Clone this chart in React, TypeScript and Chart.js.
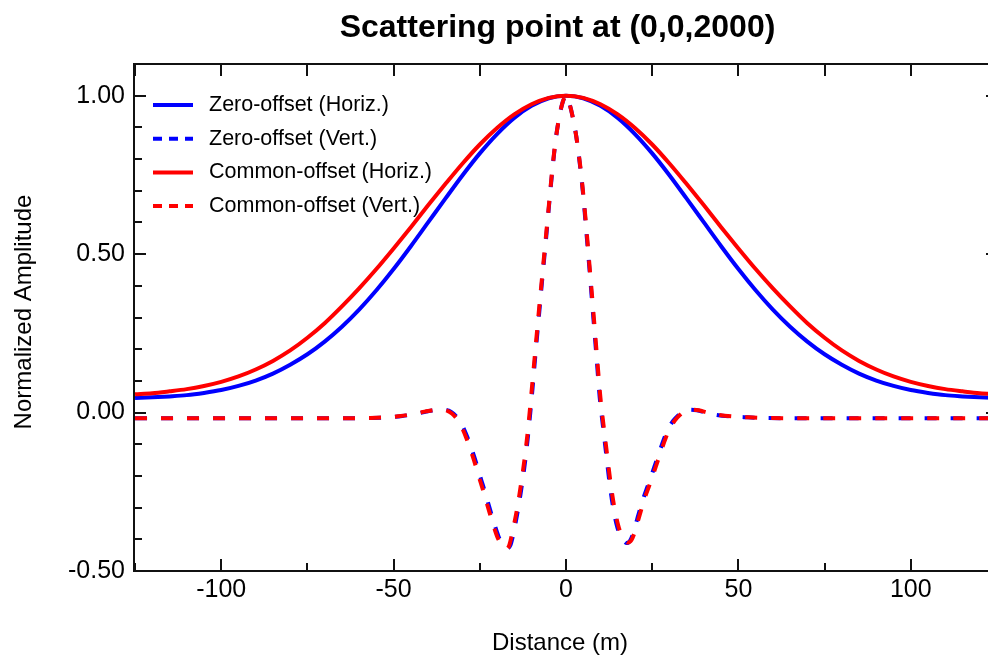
import React, { useEffect, useRef } from "react";
import { Chart, registerables } from "chart.js";

Chart.register(...registerables);

const FONT = 'Arial, "Liberation Sans", Helvetica, sans-serif';
const AXIS_COLOR = "#111111";

const CHART_TITLE = "Scattering point at (0,0,2000)";
const X_TITLE = "Distance (m)";
const Y_TITLE = "Normalized Amplitude";

const SERIES_LABELS = [
  "Zero-offset (Horiz.)",
  "Zero-offset (Vert.)",
  "Common-offset (Horiz.)",
  "Common-offset (Vert.)",
];
const SERIES_COLORS = ["#0000ff", "#0000ff", "#ff0000", "#ff0000"];
const SERIES_DASHED = [false, true, false, true];

const X_MIN = -125.3;
const X_MAX = 125.3;
const Y_MIN = -0.5;
const Y_MAX = 1.1;
const X_MAJOR_TICKS = [-100, -50, 0, 50, 100];
const X_MINOR_TICKS = [-125, -75, -25, 25, 75, 125];
const Y_MAJOR_TICKS = [-0.5, 0, 0.5, 1.0];
const Y_MINOR_TICKS = [-0.4, -0.3, -0.2, -0.1, 0.1, 0.2, 0.3, 0.4, 0.6, 0.7, 0.8, 0.9];

// Horizontal-component curves (sampled every 5 m)
const HORIZ_X = [
  -125, -120, -115, -110, -105, -100, -95, -90, -85, -80, -75, -70, -65, -60, -55, -50, -45, -40, -35, -30,
  -25, -20, -15, -10, -5, 0, 5, 10, 15, 20, 25, 30, 35, 40, 45, 50, 55, 60, 65, 70, 75, 80, 85, 90, 95, 100,
  105, 110, 115, 120, 125,
];
const ZO_HORIZ = [
  0.046, 0.048, 0.051, 0.055, 0.062, 0.071, 0.084, 0.101, 0.123, 0.151, 0.184, 0.224, 0.271, 0.325, 0.386,
  0.453, 0.525, 0.6, 0.675, 0.749, 0.818, 0.879, 0.93, 0.968, 0.992, 1.0, 0.992, 0.968, 0.93, 0.879, 0.818,
  0.749, 0.675, 0.6, 0.525, 0.453, 0.386, 0.325, 0.271, 0.224, 0.184, 0.151, 0.123, 0.101, 0.084, 0.071,
  0.062, 0.055, 0.051, 0.048, 0.046,
];
const CO_HORIZ = [
  0.058, 0.061, 0.067, 0.074, 0.084, 0.097, 0.114, 0.136, 0.163, 0.196, 0.236, 0.282, 0.335, 0.392, 0.453,
  0.518, 0.585, 0.654, 0.721, 0.786, 0.846, 0.898, 0.941, 0.973, 0.993, 1.0, 0.993, 0.973, 0.941, 0.898,
  0.846, 0.786, 0.721, 0.654, 0.585, 0.518, 0.453, 0.392, 0.335, 0.282, 0.236, 0.196, 0.163, 0.136, 0.114,
  0.097, 0.084, 0.074, 0.067, 0.061, 0.058,
];

// Vertical-component curves
const CO_VERT_X = [
  -125, -100, -80, -65, -57, -52, -48, -44, -41, -38.5, -36.5, -34.5, -33, -31.5, -30, -29, -28, -27, -26, -25,
  -24, -23, -22, -21, -20, -19, -18, -17.3, -16.5, -15.8, -15, -14, -13, -12, -11, -10, -9, -8, -7, -6, -5, -4,
  -3, -2, -1, 0, 1, 2, 3, 4, 5, 6, 7, 8, 9, 10, 11, 12, 13, 14, 15, 16, 17, 18, 19, 20, 21, 22, 23, 24, 25, 26,
  27, 28, 29, 30, 31.5, 33, 34.5, 36.5, 38.5, 41, 44, 48, 53, 58, 65, 80, 100, 125,
];
const CO_VERT = [
  -0.018, -0.018, -0.018, -0.018, -0.017, -0.015, -0.011, -0.004, 0.003, 0.008, 0.01, 0.006, -0.004, -0.022,
  -0.052, -0.078, -0.108, -0.14, -0.175, -0.212, -0.247, -0.285, -0.322, -0.358, -0.39, -0.412, -0.426, -0.43,
  -0.42, -0.39, -0.35, -0.292, -0.222, -0.145, -0.05, 0.065, 0.185, 0.305, 0.42, 0.535, 0.65, 0.765, 0.86, 0.93,
  0.978, 1.0, 0.975, 0.93, 0.87, 0.79, 0.69, 0.57, 0.44, 0.31, 0.175, 0.045, -0.05, -0.14, -0.228, -0.298, -0.35,
  -0.385, -0.403, -0.41, -0.402, -0.375, -0.337, -0.3, -0.265, -0.235, -0.205, -0.172, -0.14, -0.108, -0.078,
  -0.052, -0.026, -0.008, 0.004, 0.009, 0.007, 0.0, -0.007, -0.012, -0.015, -0.017, -0.018, -0.018, -0.018, -0.018,
];
const ZO_VERT_X = [
  -125, -100, -80, -65, -57, -51.5, -47.5, -43.5, -40.5, -38, -36, -34, -32.6, -31.1, -29.6, -28.6, -27.6, -26.6,
  -25.6, -24.6, -23.6, -22.6, -21.6, -20.6, -19.6, -18.6, -17.6, -16.9, -16.1, -15.4, -14.65, -13.7, -12.7,
  -11.75, -10.8, -9.8, -8.85, -7.85, -6.9, -5.9, -4.95, -3.95, -3, -2, -1, 0, 1, 2, 3, 3.95, 4.95, 5.9, 6.9, 7.85,
  8.85, 9.8, 10.8, 11.75, 12.7, 13.65, 14.6, 15.6, 16.6, 17.6, 18.6, 19.6, 20.6, 21.6, 22.6, 23.6, 24.6, 25.6,
  26.6, 27.6, 28.6, 29.6, 31.1, 32.6, 34, 36, 38, 40.5, 43.5, 47.5, 52.5, 57.5, 65, 80, 100, 125,
];
const ZO_VERT = [
  -0.018, -0.018, -0.018, -0.018, -0.017, -0.015, -0.011, -0.004, 0.003, 0.008, 0.01, 0.006, -0.004, -0.022,
  -0.052, -0.078, -0.108, -0.14, -0.175, -0.212, -0.247, -0.285, -0.322, -0.358, -0.39, -0.412, -0.425, -0.428,
  -0.418, -0.39, -0.35, -0.292, -0.222, -0.145, -0.05, 0.065, 0.185, 0.305, 0.42, 0.535, 0.65, 0.765, 0.86, 0.93,
  0.978, 1.0, 0.975, 0.93, 0.87, 0.79, 0.69, 0.57, 0.44, 0.31, 0.175, 0.045, -0.05, -0.14, -0.228, -0.298, -0.35,
  -0.385, -0.403, -0.412, -0.404, -0.377, -0.338, -0.3, -0.265, -0.235, -0.205, -0.172, -0.14, -0.108, -0.078,
  -0.052, -0.026, -0.008, 0.004, 0.009, 0.007, 0.0, -0.007, -0.012, -0.015, -0.017, -0.018, -0.018, -0.018, -0.018,
];

const toPoints = (xs: number[], ys: number[]) => xs.map((x, i) => ({ x, y: ys[i] }));

const decorPlugin = {
  id: "decor",
  afterDraw(chart: any) {
    const { ctx, chartArea: a, scales } = chart;
    const sx = scales.x;
    const sy = scales.y;
    ctx.save();
    ctx.strokeStyle = AXIS_COLOR;
    ctx.lineWidth = 2;
    ctx.lineCap = "butt";
    const seg = (x1: number, y1: number, x2: number, y2: number) => {
      ctx.beginPath();
      ctx.moveTo(x1, y1);
      ctx.lineTo(x2, y2);
      ctx.stroke();
    };
    X_MAJOR_TICKS.forEach((v) => {
      const p = Math.round(sx.getPixelForValue(v));
      seg(p, a.bottom, p, a.bottom - 12);
      seg(p, a.top, p, a.top + 12);
    });
    X_MINOR_TICKS.forEach((v) => {
      const p = Math.round(sx.getPixelForValue(v));
      seg(p, a.bottom, p, a.bottom - 8);
      seg(p, a.top, p, a.top + 12);
    });
    Y_MAJOR_TICKS.forEach((v) => {
      const p = Math.round(sy.getPixelForValue(v));
      seg(a.left, p, a.left + 12, p);
      seg(a.right, p, a.right - 12, p);
    });
    Y_MINOR_TICKS.forEach((v) => {
      const p = Math.round(sy.getPixelForValue(v));
      seg(a.left, p, a.left + 8, p);
      seg(a.right, p, a.right - 8, p);
    });

    // Legend inside plot
    ctx.font = `21.5px ${FONT}`;
    ctx.textBaseline = "middle";
    ctx.textAlign = "left";
    SERIES_LABELS.forEach((label, i) => {
      const y = 105 + i * 33.7;
      ctx.strokeStyle = SERIES_COLORS[i];
      ctx.lineWidth = 4;
      ctx.setLineDash(SERIES_DASHED[i] ? [9, 7] : []);
      seg(153, y, 193, y);
      ctx.setLineDash([]);
      ctx.fillStyle = "#000";
      ctx.fillText(label, 209, y);
    });

    // Titles
    ctx.fillStyle = "#000";
    ctx.textAlign = "center";
    ctx.textBaseline = "alphabetic";
    ctx.font = `bold 32px ${FONT}`;
    ctx.fillText(CHART_TITLE, 557.5, 37);
    ctx.font = `24px ${FONT}`;
    ctx.fillText(X_TITLE, 560, 650);
    ctx.translate(31, 312);
    ctx.rotate(-Math.PI / 2);
    ctx.fillText(Y_TITLE, 0, 0);
    ctx.restore();
  },
};

export default function App() {
  const ref = useRef<HTMLCanvasElement | null>(null);

  useEffect(() => {
    document.body.style.margin = "0";
    const canvas = ref.current;
    if (!canvas) return;
    const line = (i: number, data: any[]) => ({
      label: SERIES_LABELS[i],
      data,
      borderColor: SERIES_COLORS[i],
      backgroundColor: SERIES_COLORS[i],
      borderWidth: 4,
      borderDash: SERIES_DASHED[i] ? [12, 14] : [],
      pointRadius: 0,
      fill: false,
      cubicInterpolationMode: "monotone" as const,
    });
    const tickFont = { family: FONT, size: 25 };
    const chart = new Chart(canvas, {
      type: "line",
      data: {
        datasets: [
          line(3, toPoints(CO_VERT_X, CO_VERT)),
          line(1, toPoints(ZO_VERT_X, ZO_VERT)),
          line(2, toPoints(HORIZ_X, CO_HORIZ)),
          line(0, toPoints(HORIZ_X, ZO_HORIZ)),
        ],
      },
      options: {
        animation: false,
        responsive: false,
        devicePixelRatio: 1,
        layout: { padding: { left: 0, right: 2, top: 0, bottom: 0 } },
        plugins: {
          legend: { display: false },
          title: { display: false },
          tooltip: { enabled: false },
        },
        scales: {
          x: {
            type: "linear",
            position: "bottom",
            min: X_MIN,
            max: X_MAX,
            afterBuildTicks: (s: any) => {
              s.ticks = X_MAJOR_TICKS.map((value) => ({ value }));
            },
            afterFit: (s: any) => {
              s.height = 85;
            },
            ticks: {
              font: tickFont,
              color: "#000",
              padding: 4,
              maxRotation: 0,
              autoSkip: false,
              callback: (v: any) => String(v),
            },
            grid: { display: false, drawTicks: false },
            border: { display: true, color: AXIS_COLOR, width: 2 },
          },
          x2: {
            type: "linear",
            position: "top",
            min: X_MIN,
            max: X_MAX,
            afterFit: (s: any) => {
              s.height = 64;
            },
            ticks: { display: false },
            grid: { display: false, drawTicks: false },
            border: { display: true, color: AXIS_COLOR, width: 2 },
          },
          y: {
            type: "linear",
            position: "left",
            min: Y_MIN,
            max: Y_MAX,
            afterBuildTicks: (s: any) => {
              s.ticks = Y_MAJOR_TICKS.map((value) => ({ value }));
            },
            afterFit: (s: any) => {
              s.width = 134;
            },
            ticks: {
              font: tickFont,
              color: "#000",
              padding: 9,
              autoSkip: false,
              callback: (v: any) => Number(v).toFixed(2),
            },
            grid: { display: false, drawTicks: false },
            border: { display: true, color: AXIS_COLOR, width: 2 },
          },
        },
      },
      plugins: [decorPlugin],
    });
    return () => chart.destroy();
  }, []);

  return (
    <div
      style={{
        position: "fixed",
        left: 0,
        top: 0,
        width: 988,
        height: 656,
        overflow: "hidden",
        background: "#fff",
      }}
    >
      <canvas ref={ref} width={1000} height={656} style={{ display: "block", width: 1000, height: 656 }} />
    </div>
  );
}
